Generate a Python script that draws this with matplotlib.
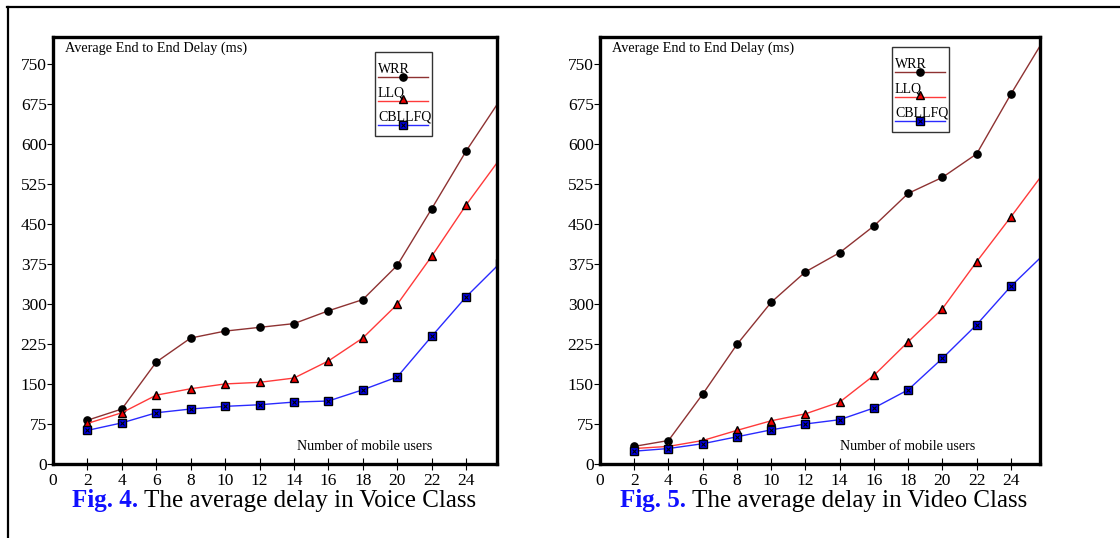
import matplotlib
matplotlib.use("Agg")
import matplotlib.pyplot as plt
from matplotlib.lines import Line2D
from matplotlib.patches import Rectangle

plt.rcParams['font.family'] = ['Liberation Serif', 'DejaVu Serif']

users = [2, 4, 6, 8, 10, 12, 14, 16, 18, 20, 22, 24, 26]
x_ticks = [0, 2, 4, 6, 8, 10, 12, 14, 16, 18, 20, 22, 24]
y_ticks = [0, 75, 150, 225, 300, 375, 450, 525, 600, 675, 750]

voice_wrr = [82, 103, 191, 236, 249, 256, 263, 287, 308, 372, 478, 586, 683]
voice_llq = [76, 96, 129, 141, 150, 153, 161, 193, 236, 299, 389, 485, 573]
voice_cbllfq = [63, 77, 96, 103, 108, 111, 116, 118, 139, 163, 239, 313, 377]

video_wrr = [33, 44, 131, 224, 303, 360, 396, 446, 507, 537, 581, 693, 799]
video_llq = [29, 33, 44, 63, 81, 94, 116, 166, 229, 291, 379, 463, 549]
video_cbllfq = [24, 29, 38, 51, 64, 75, 83, 105, 139, 198, 261, 333, 395]

series_names = ['WRR', 'LLQ', 'CBLLFQ']
captions_num = ['Fig. 4.', 'Fig. 5.']
captions_txt = ['The average delay in Voice Class', 'The average delay in Video Class']
y_title = 'Average End to End Delay (ms)'
x_title = 'Number of mobile users'

W, H = 1120, 538
fig = plt.figure(figsize=(W / 100, H / 100), dpi=100)
fig.patch.set_facecolor('white')

# outer frame
fig.add_artist(Line2D([7 / W, 1.0], [1 - 7 / H, 1 - 7 / H], color='black', lw=1.6, transform=fig.transFigure))
fig.add_artist(Line2D([8 / W, 8 / W], [1 - 7 / H, 0.0], color='black', lw=1.6, transform=fig.transFigure))

styles = [
    dict(color='#8e3232', marker='o', mfc='black', mec='black', ms=5.2),
    dict(color='#ff3a3a', marker='^', mfc='#ee0000', mec='black', ms=5.5),
    dict(color='#2a2aff', marker='s', mfc='#0000ee', mec='black', ms=5.2),
]

panels = [
    dict(px0=53, px1=497, xmax=25.8, data=[voice_wrr, voice_llq, voice_cbllfq],
         leg=(375, 432, 52, 136), legrows=(77, 101, 125), cap_x=72),
    dict(px0=600, px1=1040, xmax=25.7, data=[video_wrr, video_llq, video_cbllfq],
         leg=(892, 949, 47, 132), legrows=(72, 97, 121), cap_x=620),
]

top_px, bot_px = 37, 464
for i, p in enumerate(panels):
    ax = fig.add_axes([p['px0'] / W, 1 - bot_px / H, (p['px1'] - p['px0']) / W, (bot_px - top_px) / H])
    for vals, st in zip(p['data'], styles):
        ax.plot(users, vals, lw=1.0, **st)
    ax.plot(users, p['data'][2], ls='none', marker='x', color='black', ms=3.5, mew=0.8)
    ax.set_xlim(0, p['xmax'])
    ax.set_ylim(0, 800)
    ax.set_xticks(x_ticks)
    ax.set_yticks(y_ticks)
    ax.tick_params(axis='x', direction='inout', length=9, width=0.8, pad=2, labelsize=12.5)
    ax.tick_params(axis='y', direction='out', length=4.5, width=0.8, pad=0, labelsize=12.5)
    ax.xaxis.get_major_ticks()[0].tick1line.set_visible(False)
    for s in ax.spines.values():
        s.set_linewidth(2.4)
    ax.text(0.027, 0.99, y_title, transform=ax.transAxes, ha='left', va='top', fontsize=10.3)
    ax.text((p['px1'] - 65 - p['px0']) / (p['px1'] - p['px0']), (bot_px - 447) / (bot_px - top_px), x_title,
            transform=ax.transAxes, ha='right', va='center', fontsize=10.1)

    # legend (custom layout: label above line with marker)
    lx0, lx1, ly0, ly1 = p['leg']
    pw = p['px1'] - p['px0']
    ph = bot_px - top_px
    fx = lambda x: (x - p['px0']) / pw
    fy = lambda y: (bot_px - y) / ph
    ax.add_patch(Rectangle((fx(lx0), fy(ly1)), fx(lx1) - fx(lx0), fy(ly0) - fy(ly1),
                           transform=ax.transAxes, fill=False, ec='#333333', lw=1.0, zorder=5))
    for name, st, ry in zip(series_names, styles, p['legrows']):
        ax.add_line(Line2D([fx(lx0 + 3), fx(lx1 - 4)], [fy(ry), fy(ry)], transform=ax.transAxes,
                           color=st['color'], lw=1.0, zorder=6))
        xm = (fx(lx0 + 3) + fx(lx1 - 4)) / 2
        ax.add_line(Line2D([xm], [fy(ry - 2 if st['marker'] == '^' else ry)], transform=ax.transAxes, ls='none',
                           marker=st['marker'], mfc=st['mfc'], mec=st['mec'], ms=st['ms'], zorder=7))
        if st['marker'] == 's':
            ax.add_line(Line2D([xm], [fy(ry)], transform=ax.transAxes, ls='none', marker='x',
                               color='black', ms=3.5, mew=0.8, zorder=8))
        ax.text(fx(lx0 + 3), fy(ry - 1.5), name, transform=ax.transAxes, ha='left', va='bottom',
                fontsize=10, zorder=7)

    # caption
    t1 = fig.text(p['cap_x'] / W, 1 - 501 / H, captions_num[i], fontsize=18, fontweight='bold',
                  color='#1010ff', ha='left', va='center')
    fig.canvas.draw()
    bb = t1.get_window_extent()
    fig.text((bb.x1 + 6) / W, 1 - 501 / H, captions_txt[i], fontsize=18, color='black',
             ha='left', va='center')

fig.savefig('out.png', dpi=100)
